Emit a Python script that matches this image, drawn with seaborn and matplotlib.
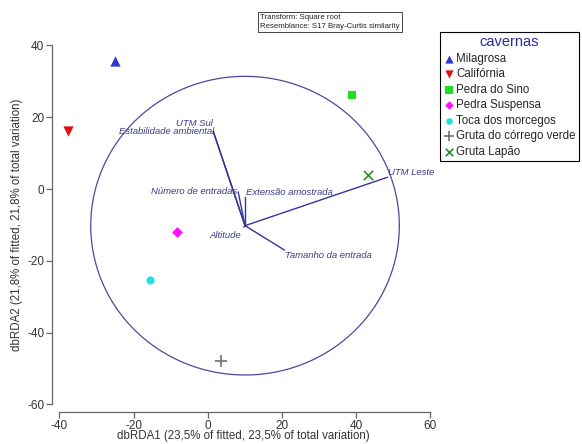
import numpy as np
import pandas as pd
import matplotlib
matplotlib.use("Agg")
import matplotlib.pyplot as plt
import seaborn as sns

# Dados (dbRDA)
cavernas = ["Milagrosa", "Califórnia", "Pedra do Sino", "Pedra Suspensa",
            "Toca dos morcegos", "Gruta do córrego verde", "Gruta Lapão"]
dbrda1 = [-25.0, -37.6, 39.0, -8.3, -15.6, 3.7, 43.1]
dbrda2 = [35.7, 16.2, 26.2, -11.9, -25.3, -47.9, 3.9]

# vetores das variaveis (origem e pontas)
origem = (10.05, -10.2)
variaveis = ["UTM Sul", "Estabilidade ambiental", "UTM Leste", "Número de entradas",
             "Extensão amostrada", "Altitude", "Tamanho da entrada"]
ponta_x = [1.5, 1.5, 48.5, 8.2, 10.05, 9.7, 20.7]
ponta_y = [16.0, 16.0, 3.3, -0.8, -2.1, -10.6, -17.0]
raio_circulo = 41.6

# estilos dos marcadores
cores = {"Milagrosa": "#3535d0", "Califórnia": "#e01010", "Pedra do Sino": "#22dd22",
         "Pedra Suspensa": "#ff10ff", "Toca dos morcegos": "#22e0e0",
         "Gruta do córrego verde": "#707070", "Gruta Lapão": "#2e8b2e"}
marcadores = {"Milagrosa": "^", "Califórnia": "v", "Pedra do Sino": "s",
              "Pedra Suspensa": "D", "Toca dos morcegos": "o",
              "Gruta do córrego verde": "+", "Gruta Lapão": "x"}
tamanhos = {"^": 55, "v": 55, "s": 40, "D": 30, "o": 35, "+": 70, "x": 45}

# posicao dos rotulos (offset em pontos, ha, va)
rotulos = {"UTM Sul": (0, 2.5, "right", "bottom"),
           "Estabilidade ambiental": (1, 0, "right", "center"),
           "UTM Leste": (0, 0, "left", "bottom"),
           "Número de entradas": (-1, 0, "right", "center"),
           "Extensão amostrada": (1, 3, "left", "center"),
           "Altitude": (-2, -3, "right", "top"),
           "Tamanho da entrada": (0, -1, "left", "top")}

sns.set_style("white")
plt.rcParams['font.family'] = ['Liberation Sans', 'DejaVu Sans']
plt.rcParams['axes.unicode_minus'] = False

df = pd.DataFrame({"caverna": cavernas, "x": dbrda1, "y": dbrda2})

fig = plt.figure(figsize=(5.82, 4.44), dpi=100)
ax = fig.add_axes([0.0893, 0.0721, 0.6564, 0.8417])

# circulo e vetores
t = np.linspace(0, 2 * np.pi, 400)
ax.plot(origem[0] + raio_circulo * np.cos(t), origem[1] + raio_circulo * np.sin(t),
        color="#4a4a9c", lw=0.9, zorder=1)
for nome, px, py in zip(variaveis, ponta_x, ponta_y):
    ax.plot([origem[0], px], [origem[1], py], color="#35359a", lw=1.0, zorder=2)
    ox, oy, ha, va = rotulos[nome]
    ax.annotate(nome, (px, py), xytext=(ox, oy), textcoords="offset points",
                ha=ha, va=va, fontsize=6.8, style="italic", color="#3a3a8c")

# pontos das cavernas
for _, row in df.iterrows():
    m = marcadores[row["caverna"]]
    sns.scatterplot(x=[row["x"]], y=[row["y"]], ax=ax, marker=m, s=tamanhos[m],
                    color=cores[row["caverna"]], label=row["caverna"],
                    linewidth=1.2 if m in "+x" else 0, zorder=3)

ax.set_xlim(-42, 61)
ax.set_ylim(-62.1, 42)
ax.set_xticks([-40, -20, 0, 20, 40, 60])
ax.set_yticks([-60, -40, -20, 0, 20, 40])
for s in ["top", "right"]:
    ax.spines[s].set_visible(False)
ax.spines["left"].set_bounds(-60, 40)
ax.spines["bottom"].set_bounds(-40, 60)
for s in ["left", "bottom"]:
    ax.spines[s].set_color("#666666")
    ax.spines[s].set_linewidth(0.9)
ax.tick_params(axis="both", length=4, width=0.9, color="#666666", pad=1.5,
               labelsize=8.5, labelcolor="#333333", left=True, bottom=True)
ax.set_xlabel("dbRDA1 (23,5% of fitted, 23,5% of total variation)",
              fontsize=8.3, color="#333333", labelpad=-1)
ax.set_ylabel("dbRDA2 (21,8% of fitted, 21,8% of total variation)",
              fontsize=8.3, color="#333333", labelpad=3)

handles, labels = ax.get_legend_handles_labels()
leg = ax.legend(handles, labels, title="cavernas", loc="upper left",
                bbox_to_anchor=(440 / 582, 1 - 32 / 444), bbox_transform=fig.transFigure,
                fontsize=8.3, title_fontsize=10.5, frameon=True, fancybox=False,
                edgecolor="black", framealpha=1, borderpad=0.3, labelspacing=0.3,
                handletextpad=0.2, handlelength=0.9, borderaxespad=0, markerscale=0.8)
leg.get_title().set_color("#2a2a9c")
leg.get_frame().set_linewidth(0.8)

fig.text(260 / 582, 1 - 14 / 444,
         "Transform: Square root\nResemblance: S17 Bray-Curtis similarity",
         ha="left", va="top", fontsize=5.6, color="#222222", linespacing=1.3,
         bbox=dict(boxstyle="square,pad=0.3", fc="white", ec="#444444", lw=0.7))

fig.savefig("out.png", dpi=100)
